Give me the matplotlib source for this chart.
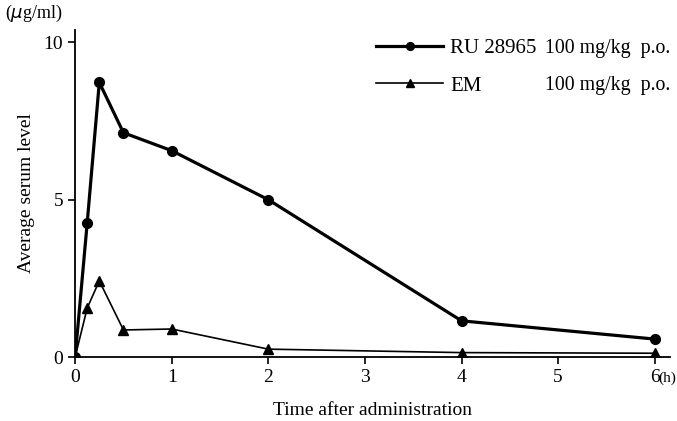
import matplotlib.pyplot as plt

plt.rcParams['font.family'] = ['Liberation Serif', 'DejaVu Serif']

hours = [0, 0.125, 0.25, 0.5, 1, 2, 4, 6]
ru_level = [0, 4.27, 8.73, 7.13, 6.56, 5.0, 1.15, 0.57]
em_level = [0, 1.56, 2.42, 0.86, 0.89, 0.25, 0.14, 0.12]
series_names = ['RU 28965', 'EM']
dose = '100 mg/kg  p.o.'

fig = plt.figure(figsize=(6.77, 4.21), dpi=100)
ax = fig.add_axes([0.111, 0.152, 0.879, 0.777])

ax.plot(hours, ru_level, '-o', color='black', lw=2.3, ms=7, label=series_names[0])
ax.plot(hours, em_level, '-^', color='black', lw=1.2, ms=7, label=series_names[1])

ax.set_xlim(0, 6.16)
ax.set_ylim(0, 10.4)
ax.set_xticks(range(7))
ax.set_yticks([0, 5, 10])
ax.spines['top'].set_visible(False)
ax.spines['right'].set_visible(False)
ax.spines['left'].set_linewidth(1.3)
ax.spines['bottom'].set_linewidth(1.3)
ax.tick_params(labelsize=14, width=1.2, length=5)

ax.set_xlabel('Time after administration', fontsize=14, labelpad=12)
ax.set_ylabel('Average serum level', fontsize=14, labelpad=6)
fig.text(0.008, 0.968, '($\\mu$g/ml)', fontsize=13, ha='left', va='center')
fig.text(0.9995, 0.102, '(h)', fontsize=11, ha='right', va='center')

leg = fig.legend(loc='upper left', bbox_to_anchor=(0.556, 0.908), frameon=False,
                 fontsize=15, handlelength=3.2, handletextpad=0.35,
                 markerscale=0.8, labelspacing=0.85, borderpad=0, borderaxespad=0)
for i, y in enumerate([0.884, 0.796]):
    fig.text(0.805, y, dose, fontsize=14.3, va='center', ha='left')

fig.savefig('out.png', dpi=100)
